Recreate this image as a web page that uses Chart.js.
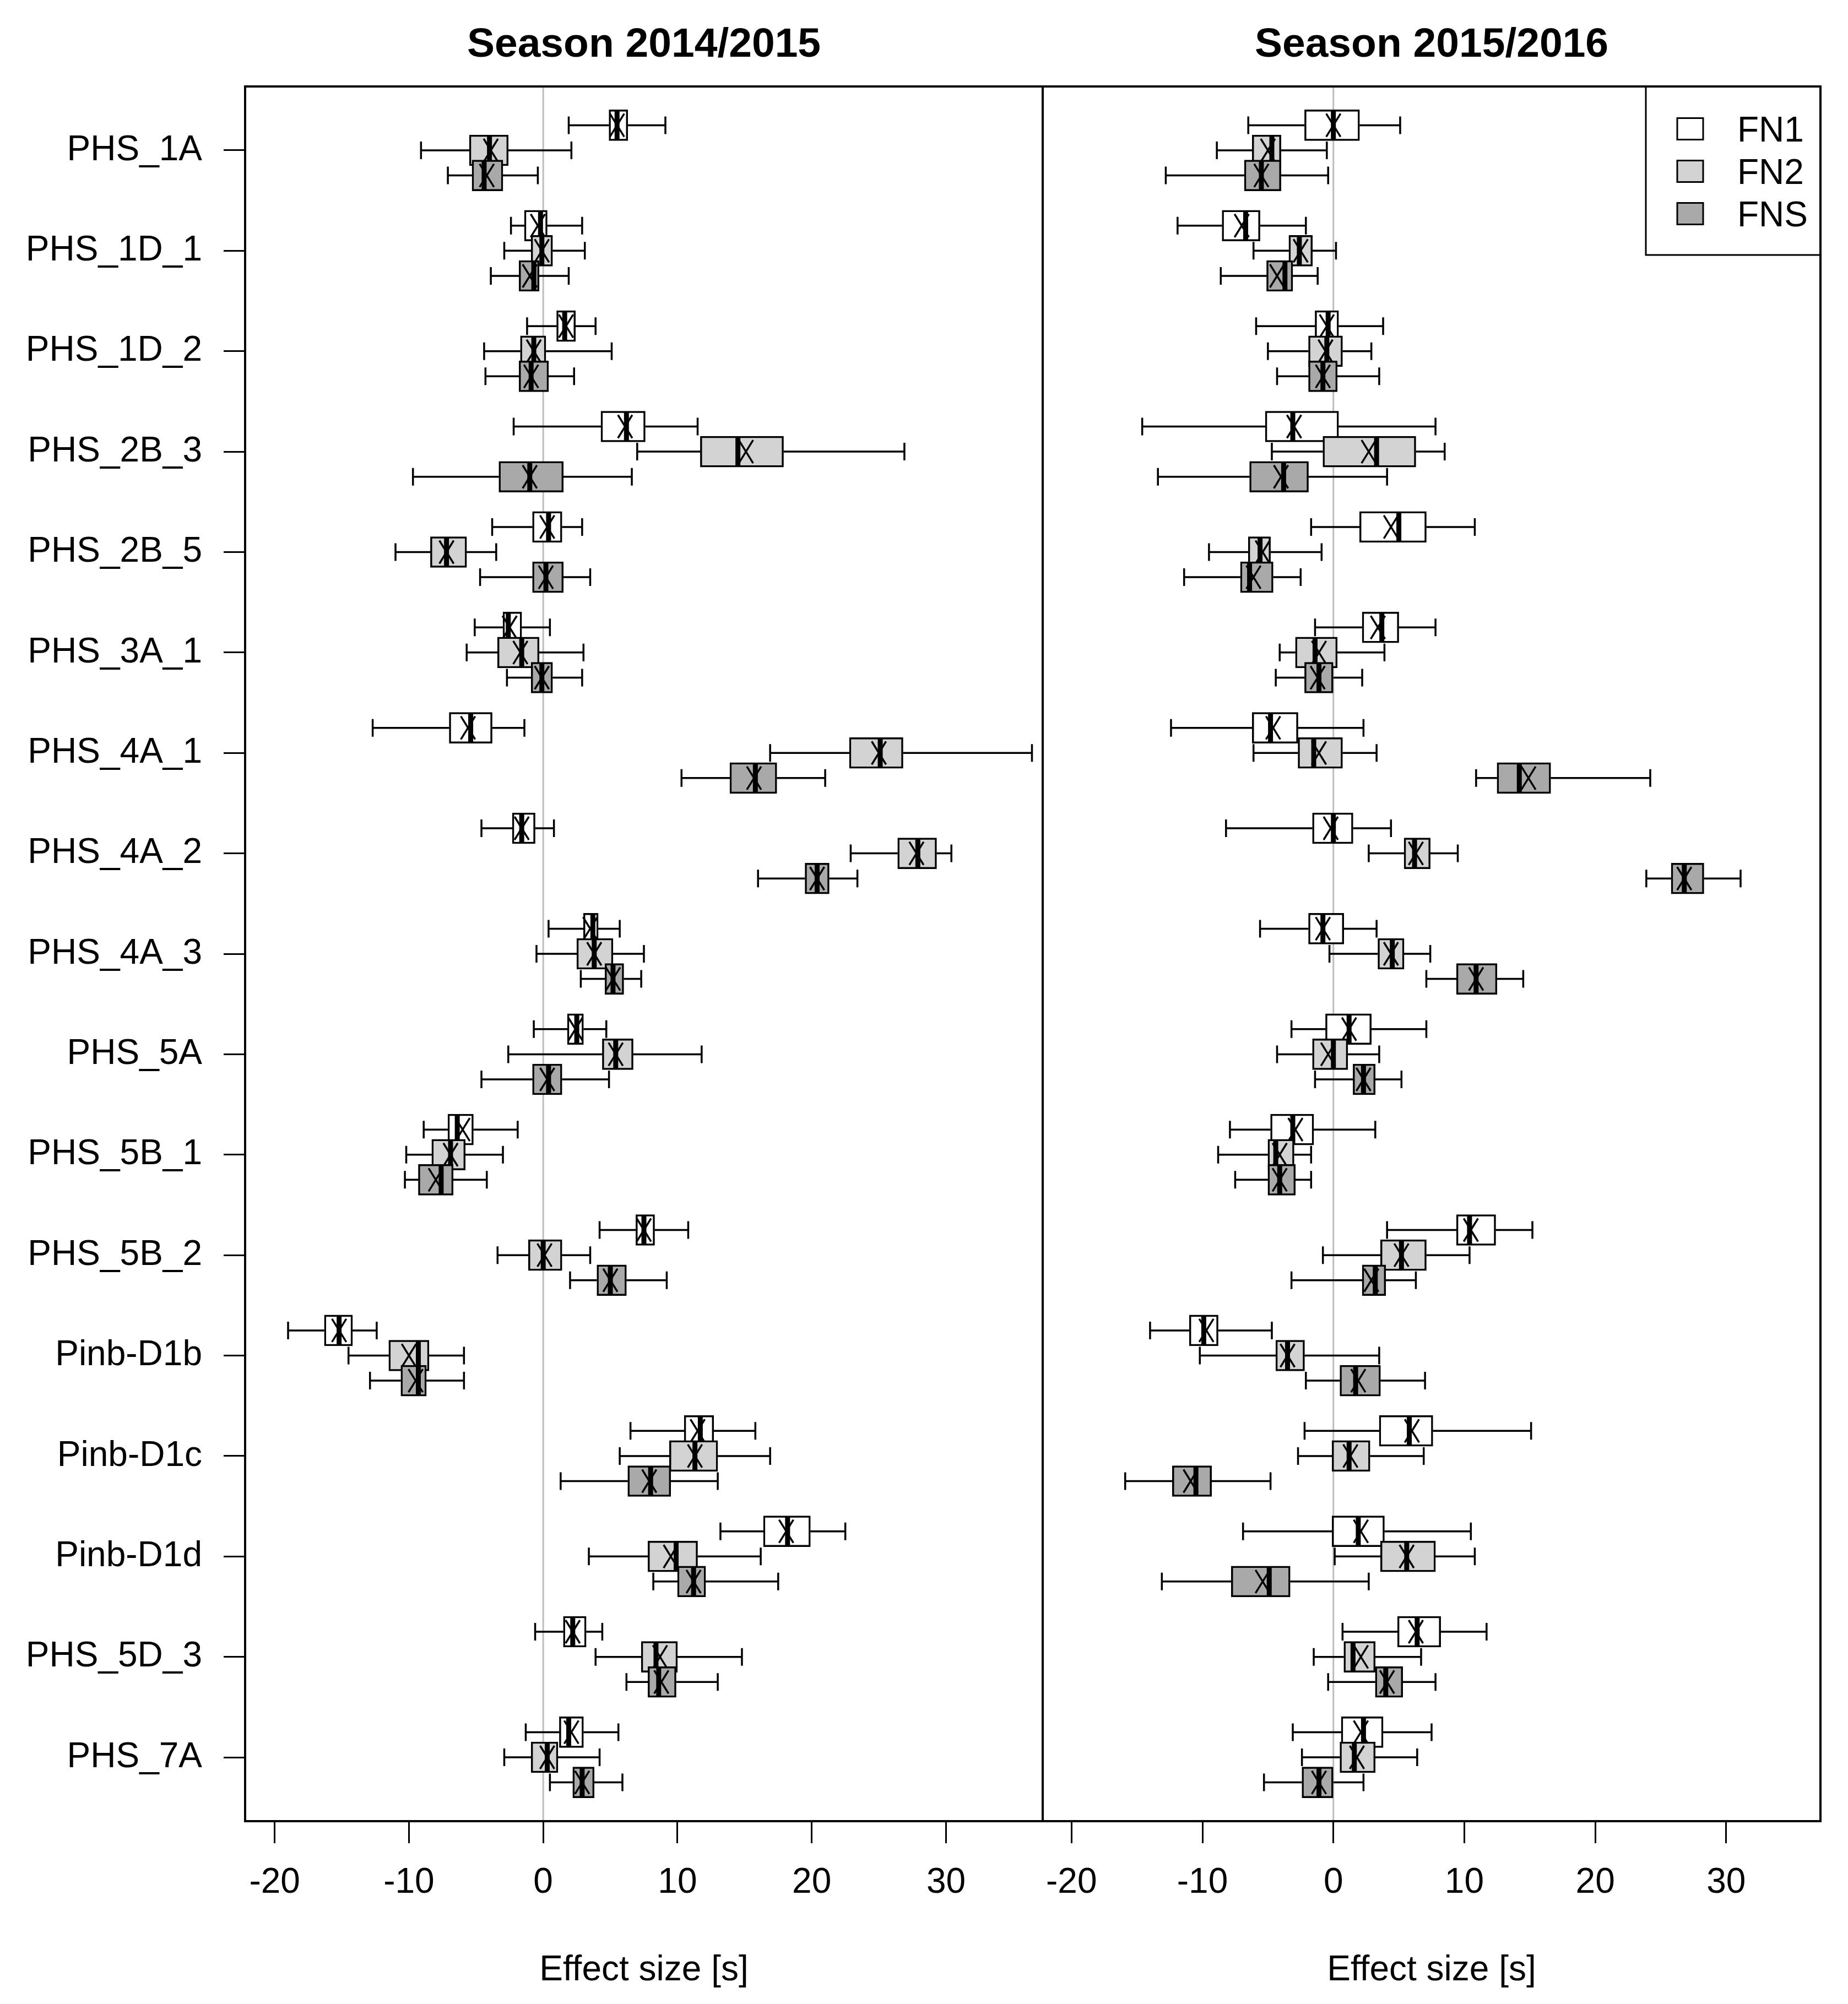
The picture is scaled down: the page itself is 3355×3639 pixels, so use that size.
<!DOCTYPE html>
<html>
<head>
<meta charset="utf-8">
<script src="https://cdn.jsdelivr.net/npm/chart.js@4.4.1/dist/chart.umd.min.js"></script>
<style>
  html, body { margin: 0; padding: 0; background: #ffffff; }
  #wrap { position: relative; width: 3355px; height: 3639px; background: #ffffff; overflow: hidden; }
  canvas { position: absolute; top: 0; }
</style>
</head>
<body>
<div id="wrap">
  <canvas id="left" width="1920" height="3639" style="left:0px;width:1920px;height:3639px;"></canvas>
  <canvas id="right" width="1475" height="3639" style="left:1880px;width:1475px;height:3639px;"></canvas>
</div>
<script>
// ---------------- DATA ----------------
const markers = ['PHS_1A','PHS_1D_1','PHS_1D_2','PHS_2B_3','PHS_2B_5','PHS_3A_1','PHS_4A_1','PHS_4A_2',
  'PHS_4A_3','PHS_5A','PHS_5B_1','PHS_5B_2','Pinb-D1b','Pinb-D1c','Pinb-D1d','PHS_5D_3','PHS_7A'];
const seriesNames = ['FN1', 'FN2', 'FNS'];
const seasonTitles = ['Season 2014/2015', 'Season 2015/2016'];
const xTickValues = [-20, -10, 0, 10, 20, 30];
const xAxisTitle = 'Effect size [s]';

// each entry: [whisker low, Q1, median, Q3, whisker high, mean]
const FN1_1415 = [
  [1.9,4.9,5.5,6.3,9.1,5.5],[-2.4,-1.4,-0.2,0.3,2.9,-0.4],[-1.2,1.0,1.6,2.4,3.9,1.7],[-2.2,4.3,6.2,7.6,11.5,6.1],
  [-3.8,-0.8,0.4,1.4,2.9,0.3],[-5.1,-3.0,-2.6,-1.6,0.5,-2.5],[-12.7,-7.0,-5.4,-3.8,-1.4,-5.6],[-4.6,-2.3,-1.6,-0.6,0.8,-1.6],
  [0.4,3.0,3.7,4.1,5.7,3.5],[-0.7,1.8,2.5,3.0,4.7,2.4],[-8.9,-7.1,-6.4,-5.2,-1.9,-6.0],[4.2,6.9,7.5,8.3,10.8,7.5],
  [-19.0,-16.3,-15.2,-14.2,-12.4,-15.2],[6.5,10.5,11.7,12.7,15.8,11.5],[13.2,16.4,18.2,19.9,22.5,18.1],[-0.6,1.5,2.2,3.2,4.4,2.2],
  [-1.3,1.2,1.9,3.0,5.6,2.1]
];
const FN2_1415 = [
  [-9.1,-5.5,-4.0,-2.6,2.1,-3.9],[-2.9,-0.9,-0.1,0.7,3.1,-0.1],[-4.4,-1.7,-0.7,0.2,5.1,-0.7],[7.0,11.7,14.5,17.9,26.9,15.1],
  [-11.0,-8.4,-7.2,-5.7,-3.5,-7.2],[-5.7,-3.4,-1.6,-0.3,3.0,-1.7],[16.9,22.8,25.1,26.8,36.4,25.0],[22.9,26.4,27.9,29.3,30.4,27.8],
  [-0.5,2.5,3.8,5.2,7.5,3.8],[-2.6,4.4,5.4,6.7,11.8,5.4],[-10.2,-8.3,-6.9,-5.8,-3.0,-6.9],[-3.4,-1.1,0.0,1.4,3.5,0.1],
  [-14.5,-11.5,-9.3,-8.5,-5.9,-10.0],[5.7,9.4,11.3,13.0,16.9,11.3],[3.4,7.8,9.9,11.5,16.2,9.5],[3.9,7.3,8.4,10.0,14.8,8.7],
  [-2.9,-0.9,0.3,1.1,4.2,0.3]
];
const FNS_1415 = [
  [-7.1,-5.3,-4.4,-3.0,-0.4,-4.2],[-3.9,-1.8,-0.7,-0.3,1.9,-1.0],[-4.3,-1.8,-0.9,0.4,2.3,-0.9],[-9.7,-3.3,-1.0,1.5,6.6,-1.0],
  [-4.7,-0.8,0.2,1.5,3.5,0.2],[-2.7,-0.9,-0.1,0.7,2.9,-0.1],[10.3,13.9,15.8,17.4,21.0,15.7],[16.0,19.5,20.4,21.3,23.4,20.4],
  [2.8,4.6,5.2,6.0,7.3,5.2],[-4.6,-0.8,0.4,1.4,4.9,0.3],[-10.3,-9.3,-7.6,-6.7,-4.2,-8.0],[2.0,4.0,5.0,6.2,9.2,5.0],
  [-12.9,-10.6,-9.3,-8.7,-5.9,-9.5],[1.3,6.3,8.0,9.5,13.0,7.9],[8.2,10.0,11.2,12.1,17.5,11.2],[6.2,7.8,8.6,9.9,13.0,8.8],
  [0.5,2.2,2.9,3.8,5.9,2.9]
];
const FN1_1516 = [
  [-6.5,-2.2,0.0,2.0,5.1,0.0],[-11.9,-8.5,-6.7,-5.6,-2.1,-7.0],[-5.9,-1.4,-0.4,0.4,3.8,-0.5],[-14.6,-5.2,-3.1,0.4,7.8,-3.0],
  [-1.7,2.0,5.0,7.1,10.8,4.4],[-1.4,2.2,3.7,5.0,7.8,3.4],[-12.4,-6.2,-4.8,-2.7,2.3,-4.6],[-8.2,-1.6,0.0,1.5,4.4,-0.2],
  [-5.6,-1.9,-0.8,0.8,3.3,-0.8],[-3.2,-0.6,1.2,2.9,7.1,1.2],[-7.9,-4.8,-3.1,-1.5,3.2,-2.9],[4.1,9.4,10.4,12.4,15.2,10.5],
  [-14.0,-11.0,-9.9,-8.8,-4.7,-9.7],[-2.2,3.5,5.8,7.6,15.1,6.0],[-6.9,-0.1,1.9,3.9,10.5,2.1],[0.7,4.9,6.4,8.2,11.7,6.3],
  [-3.1,0.6,2.3,3.8,7.5,2.1]
];
const FN2_1516 = [
  [-8.9,-6.2,-4.7,-4.0,-0.5,-5.0],[-6.1,-3.4,-2.6,-1.6,0.2,-2.5],[-5.0,-1.9,-0.5,0.7,2.9,-0.6],[-4.7,-0.8,3.3,6.3,8.5,2.7],
  [-9.5,-6.5,-5.6,-4.8,-0.9,-5.4],[-4.1,-2.9,-1.4,0.3,3.9,-1.1],[-6.1,-2.7,-1.5,0.7,3.3,-1.1],[2.7,5.4,6.2,7.4,9.5,6.3],
  [-0.3,3.4,4.5,5.4,7.4,4.4],[-4.3,-1.6,0.0,1.1,3.5,-0.4],[-8.8,-5.0,-4.4,-3.0,-1.7,-4.1],[-0.8,3.6,5.2,7.1,10.4,5.2],
  [-10.2,-4.4,-3.5,-2.2,3.5,-3.5],[-2.7,-0.1,1.2,2.8,6.9,1.3],[0.1,3.6,5.6,7.8,10.8,5.6],[-1.5,0.8,1.5,3.2,6.7,2.1],
  [-2.4,0.5,1.6,3.2,6.4,1.8]
];
const FNS_1516 = [
  [-12.8,-6.8,-5.5,-4.0,-0.4,-5.5],[-8.6,-5.1,-3.7,-3.1,-1.2,-4.3],[-4.3,-1.9,-0.8,0.3,3.5,-0.8],[-13.4,-6.4,-3.8,-1.9,4.1,-4.0],
  [-11.4,-7.1,-6.4,-4.6,-2.5,-6.1],[-4.4,-2.2,-1.1,0.0,2.2,-1.2],[10.9,12.5,14.2,16.6,24.2,14.9],[23.9,25.8,26.8,28.3,31.1,26.8],
  [7.1,9.4,10.9,12.5,14.5,10.9],[-1.4,1.5,2.3,3.2,5.2,2.3],[-7.5,-5.0,-4.1,-2.9,-1.7,-4.1],[-3.2,2.2,3.2,4.0,6.3,2.9],
  [-2.1,0.5,1.7,3.6,7.0,1.9],[-15.9,-12.3,-10.5,-9.3,-4.8,-10.9],[-13.1,-7.8,-4.9,-3.3,2.7,-5.4],[-0.4,3.2,4.0,5.3,7.8,4.1],
  [-5.3,-2.4,-1.1,0.0,2.3,-1.1]
];

// ---------------- STYLE ----------------
const FONT = '"Liberation Sans", Arial, Helvetica, sans-serif';
const fillColors = ['#ffffff', '#d3d3d3', '#a9a9a9'];
const offsets = [-0.25, 0, 0.25];
const BOX_H = 56;

Chart.defaults.font.family = FONT;
Chart.defaults.color = '#000000';

const boxPlugin = {
  id: 'boxExtras',
  beforeDatasetsDraw(chart) {
    const ca = chart.chartArea, ctx = chart.ctx;
    const x0 = chart.scales.x.getPixelForValue(0);
    ctx.save();
    ctx.strokeStyle = '#bdbdbd';
    ctx.lineWidth = 3;
    ctx.beginPath();
    ctx.moveTo(x0, ca.top);
    ctx.lineTo(x0, ca.bottom);
    ctx.stroke();
    ctx.restore();
  },
  afterDatasetDraw(chart, args) {
    const ctx = chart.ctx;
    const xs = chart.scales.x;
    const ds = chart.data.datasets[args.index];
    const meta = args.meta;
    ctx.save();
    ctx.strokeStyle = '#000000';
    ctx.lineCap = 'butt';
    meta.data.forEach((bar, i) => {
      const s = ds.stats[i];
      const y = bar.y;
      const h = BOX_H / 2;
      const pwl = xs.getPixelForValue(s[0]);
      const pq1 = xs.getPixelForValue(s[1]);
      const pmed = xs.getPixelForValue(s[2]);
      const pq3 = xs.getPixelForValue(s[3]);
      const pwh = xs.getPixelForValue(s[4]);
      const pmean = xs.getPixelForValue(s[5]);
      // whiskers
      ctx.lineWidth = 3.5;
      ctx.beginPath();
      ctx.moveTo(pwl, y); ctx.lineTo(pq1, y);
      ctx.moveTo(pq3, y); ctx.lineTo(pwh, y);
      ctx.moveTo(pwl, y - 16); ctx.lineTo(pwl, y + 16);
      ctx.moveTo(pwh, y - 16); ctx.lineTo(pwh, y + 16);
      ctx.stroke();
      // median
      ctx.lineWidth = 9;
      ctx.beginPath();
      ctx.moveTo(pmed, y - h + 2); ctx.lineTo(pmed, y + h - 2);
      ctx.stroke();
      // mean (x)
      ctx.lineWidth = 3.5;
      ctx.beginPath();
      ctx.moveTo(pmean - 13, y - 21); ctx.lineTo(pmean + 13, y + 21);
      ctx.moveTo(pmean + 13, y - 21); ctx.lineTo(pmean - 13, y + 21);
      ctx.stroke();
    });
    ctx.restore();
  },
  afterDraw(chart) {
    const ca = chart.chartArea, ctx = chart.ctx;
    const o = chart.options.plugins.boxExtras;
    ctx.save();
    // frame
    ctx.strokeStyle = '#000000';
    ctx.lineWidth = 4;
    ctx.strokeRect(ca.left, ca.top, ca.right - ca.left, ca.bottom - ca.top);
    // panel title
    ctx.fillStyle = '#000000';
    ctx.font = 'bold 75px ' + FONT;
    ctx.textAlign = 'center';
    ctx.textBaseline = 'alphabetic';
    ctx.fillText(o.title, (ca.left + ca.right) / 2, 103);
    // legend
    if (o.legend) {
      const L = ca.right - 317, T = ca.top, B = ca.top + 306;
      ctx.lineWidth = 3;
      ctx.strokeRect(L, T, ca.right - L, B - T);
      ctx.font = '64px ' + FONT;
      ctx.textAlign = 'left';
      seriesNames.forEach((n, k) => {
        const cy = T + 77 + k * 77;
        ctx.fillStyle = fillColors[k];
        ctx.fillRect(L + 57, cy - 19.5, 47, 39);
        ctx.strokeStyle = '#000000';
        ctx.lineWidth = 3;
        ctx.strokeRect(L + 57, cy - 19.5, 47, 39);
        ctx.fillStyle = '#000000';
        ctx.fillText(n, L + 166, cy + 23);
      });
    }
    ctx.restore();
  }
};

function makeChart(id, title, seriesStats, showY, showLegend, padding) {
  const datasets = seriesStats.map((stats, k) => ({
    label: seriesNames[k],
    data: stats.map((s, i) => ({ y: i + 1 + offsets[k], x: [s[1], s[3]] })),
    stats: stats,
    backgroundColor: fillColors[k],
    borderColor: '#000000',
    borderWidth: 3.5,
    borderSkipped: false,
    barThickness: BOX_H,
    grouped: false,
    order: 3 - k
  }));
  return new Chart(document.getElementById(id), {
    type: 'bar',
    data: { datasets },
    options: {
      indexAxis: 'y',
      responsive: false,
      animation: false,
      devicePixelRatio: 1,
      layout: { padding },
      plugins: {
        legend: { display: false },
        title: { display: false },
        tooltip: { enabled: false },
        boxExtras: { title, legend: showLegend }
      },
      scales: {
        x: {
          type: 'linear',
          min: -22.2, max: 37.2,
          offset: false,
          afterBuildTicks: (sc) => { sc.ticks = xTickValues.map(v => ({ value: v })); },
          afterFit: (sc) => { sc.height = 332; sc.paddingLeft = 0; sc.paddingRight = 0; },
          grid: { offset: false, drawOnChartArea: false, drawTicks: true, tickLength: 40, tickWidth: 3, tickColor: '#000000' },
          border: { display: false },
          ticks: { font: { size: 64 }, color: '#000000', padding: 34, autoSkip: false, maxRotation: 0,
                   callback: (v) => String(v) },
          title: { display: true, text: xAxisTitle, font: { size: 64 }, color: '#000000', padding: { top: 0, bottom: 22 } }
        },
        y: {
          type: 'linear',
          display: showY,
          reverse: true,
          offset: false,
          min: 0.364, max: 17.636,
          afterBuildTicks: (sc) => { sc.ticks = markers.map((m, i) => ({ value: i + 1 })); },
          afterFit: (sc) => { sc.width = showY ? 445 : 0; sc.paddingTop = 0; sc.paddingBottom = 0; },
          grid: { offset: false, drawOnChartArea: false, drawTicks: true, tickLength: 39, tickWidth: 3, tickColor: '#000000' },
          border: { display: false },
          ticks: { font: { size: 64 }, color: '#000000', padding: 39, autoSkip: false,
                   callback: (v) => markers[Math.round(v) - 1] }
        }
      }
    },
    plugins: [boxPlugin]
  });
}

makeChart('left', seasonTitles[0], [FN1_1415, FN2_1415, FNS_1415], true, false,
  { top: 157, right: 27, bottom: 0, left: 0 });
makeChart('right', seasonTitles[1], [FN1_1516, FN2_1516, FNS_1516], false, true,
  { top: 157, right: 50, bottom: 0, left: 13 });
</script>
</body>
</html>
